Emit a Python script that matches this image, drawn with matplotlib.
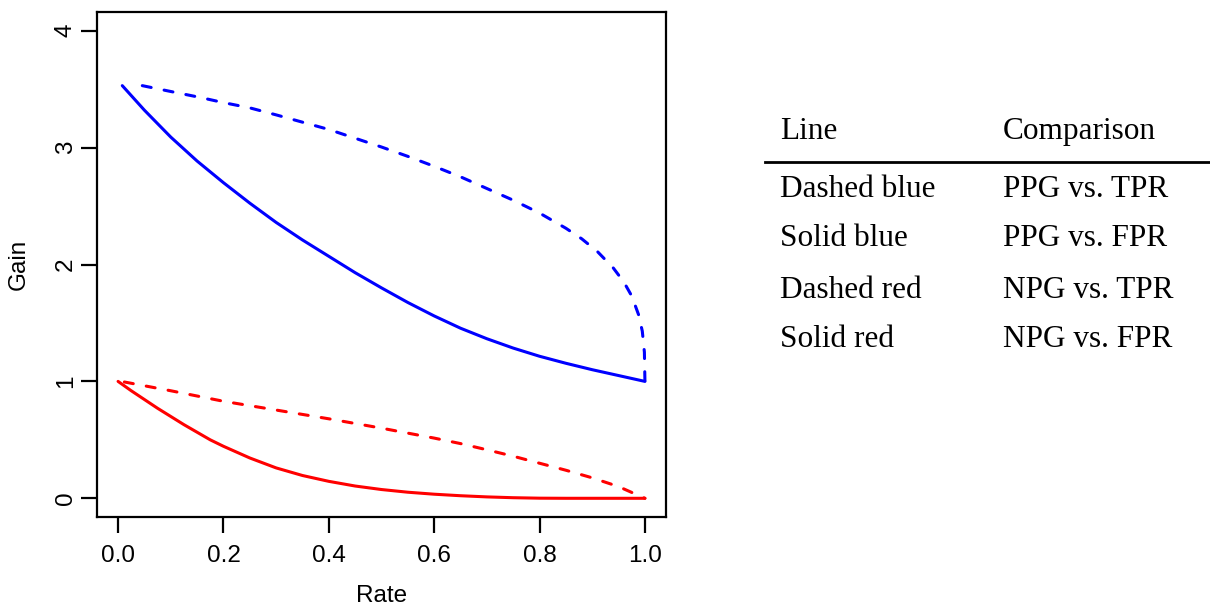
import matplotlib
matplotlib.use("Agg")
import matplotlib.pyplot as plt
from matplotlib.lines import Line2D

# ---------------- data ----------------
ppg_fpr_x = [0.008, 0.05, 0.1, 0.15, 0.2, 0.25, 0.3, 0.35, 0.4, 0.45, 0.5, 0.55,
             0.6, 0.65, 0.7, 0.75, 0.8, 0.85, 0.9, 0.95, 1.0]
ppg_fpr_y = [3.53, 3.32, 3.09, 2.885, 2.70, 2.525, 2.36, 2.21, 2.07, 1.93, 1.80, 1.675,
             1.56, 1.455, 1.365, 1.285, 1.215, 1.155, 1.10, 1.05, 1.0]

ppg_tpr_x = [0.046, 0.1, 0.155, 0.2, 0.25, 0.3, 0.344, 0.4, 0.45, 0.5, 0.55, 0.6,
             0.65, 0.7, 0.75, 0.8, 0.85, 0.88, 0.91, 0.94, 0.96, 0.975, 0.988,
             0.995, 0.999, 1.0]
ppg_tpr_y = [3.53, 3.48, 3.43, 3.385, 3.34, 3.28, 3.225, 3.155, 3.08, 3.005, 2.925, 2.84,
             2.75, 2.65, 2.55, 2.44, 2.31, 2.22, 2.11, 1.97, 1.85, 1.73, 1.57,
             1.43, 1.25, 1.0]

npg_fpr_x = [0.0, 0.025, 0.05, 0.075, 0.1, 0.125, 0.15, 0.175, 0.2, 0.25, 0.3, 0.35,
             0.4, 0.45, 0.5, 0.55, 0.6, 0.65, 0.7, 0.75, 0.8, 0.85, 1.0]
npg_fpr_y = [1.0, 0.92, 0.845, 0.77, 0.70, 0.63, 0.565, 0.50, 0.445, 0.345, 0.26, 0.195,
             0.145, 0.105, 0.075, 0.052, 0.035, 0.022, 0.012, 0.005, 0.001, 0.0, 0.0]

npg_tpr_x = [0.012, 0.1, 0.2, 0.3, 0.4, 0.5, 0.6, 0.65, 0.7, 0.75, 0.8, 0.85, 0.9, 0.95, 1.0]
npg_tpr_y = [0.995, 0.92, 0.83, 0.755, 0.68, 0.60, 0.515, 0.468, 0.415, 0.36, 0.30, 0.24,
             0.175, 0.10, 0.0]

x_ticks = [0.0, 0.2, 0.4, 0.6, 0.8, 1.0]
x_tick_labels = ["0.0", "0.2", "0.4", "0.6", "0.8", "1.0"]
y_ticks = [0, 1, 2, 3, 4]
y_tick_labels = ["0", "1", "2", "3", "4"]

table_header = ["Line", "Comparison"]
table_lines = ["Dashed blue", "Solid blue", "Dashed red", "Solid red"]
table_comparisons = ["PPG vs. TPR", "PPG vs. FPR", "NPG vs. TPR", "NPG vs. FPR"]

# ---------------- figure ----------------
W, H = 1210, 609
DPI = 100
plt.rcParams['font.family'] = ['Liberation Sans', 'DejaVu Sans']
plt.rcParams['lines.scale_dashes'] = False
fig = plt.figure(figsize=(W / DPI, H / DPI), dpi=DPI)

def fx(px):
    return px / W

def fy(py):
    return 1 - py / H

ax_l, ax_r, ax_t, ax_b = 97, 666, 12, 517
ax = fig.add_axes([fx(ax_l), fy(ax_b), fx(ax_r - ax_l), (ax_b - ax_t) / H])

lw = 2.2
dash = (6.5, 9.5)
common = dict(lw=lw, solid_capstyle='round', solid_joinstyle='round',
              dash_capstyle='round', dash_joinstyle='round')
ax.plot(ppg_tpr_x, ppg_tpr_y, color='#0000FF', dashes=dash, **common)
ax.plot(ppg_fpr_x, ppg_fpr_y, color='#0000FF', **common)
ax.plot(npg_tpr_x, npg_tpr_y, color='#FF0000', dashes=dash, **common)
ax.plot(npg_fpr_x, npg_fpr_y, color='#FF0000', **common)

ax.set_xlim(-0.04, 1.04)
ax.set_ylim(-0.16, 4.16)
ax.set_xticks(x_ticks)
ax.set_xticklabels(x_tick_labels)
ax.set_yticks(y_ticks)
ax.set_yticklabels(y_tick_labels, rotation=90, va='center')

for s in ax.spines.values():
    s.set_linewidth(1.6)
    s.set_color('black')

fs = 17.5
ax.tick_params(axis='both', direction='out', length=11.5, width=1.6,
               labelsize=fs, colors='black')
ax.tick_params(axis='x', pad=9)
ax.tick_params(axis='y', pad=3)

ax.set_xlabel('Rate', fontsize=fs)
ax.xaxis.set_label_coords(0.5, -(596 - ax_b) / (ax_b - ax_t))
ax.xaxis.label.set_va('center')
ax.set_ylabel('Gain', fontsize=fs)
ax.yaxis.set_label_coords(-(ax_l - 19) / (ax_r - ax_l), 0.5)
ax.yaxis.label.set_va('center')

# ---------------- table ----------------
serif = ['Liberation Serif', 'DejaVu Serif']
tsize = 22.5
col_x = [780, 1003]
header_base = 139
row_bases = [197, 246, 298, 347]
for cx, txt in zip(col_x, table_header):
    fig.text(fx(cx), fy(header_base), txt, family=serif, fontsize=tsize,
             ha='left', va='baseline')
fig.add_artist(Line2D([fx(765), fx(1210)], [fy(162), fy(162)],
                      transform=fig.transFigure, color='black', lw=2))
for yb, a, b in zip(row_bases, table_lines, table_comparisons):
    fig.text(fx(col_x[0]), fy(yb), a, family=serif, fontsize=tsize,
             ha='left', va='baseline')
    fig.text(fx(col_x[1]), fy(yb), b, family=serif, fontsize=tsize,
             ha='left', va='baseline')

fig.savefig('out.png', dpi=DPI)
